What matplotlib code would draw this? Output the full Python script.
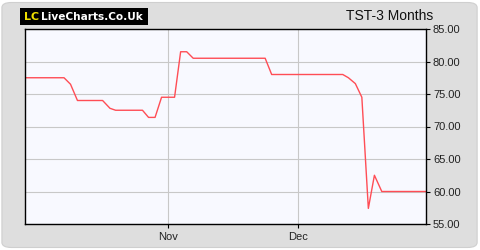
import matplotlib.pyplot as plt
import matplotlib.dates as mdates
from matplotlib.patches import FancyBboxPatch, Rectangle
from datetime import datetime, timedelta

# price series (day offsets from start date, price)
start = datetime(2023, 9, 29)
days = [0, 9, 10.5, 12.1, 17.9, 19.6, 20.9, 27.1, 28.5, 30, 31.5, 34.5,
        35.9, 37.3, 38.8, 55.4, 56.9, 73.3, 74.6, 76.2, 77.7, 79.2, 80.6,
        82.3, 92.5]
prices = [77.5, 77.5, 76.5, 74.0, 74.0, 72.8, 72.5, 72.5, 71.4, 71.4, 74.5,
          74.5, 81.5, 81.5, 80.5, 80.5, 78.0, 78.0, 77.5, 76.6, 74.5, 57.4,
          62.5, 60.0, 60.0]
yticks = [55, 60, 65, 70, 75, 80, 85]
month_ticks = [datetime(2023, 11, 1), datetime(2023, 12, 1)]
month_labels = ['Nov', 'Dec']
title = 'TST-3 Months'

dates = [start + timedelta(days=d) for d in days]

plt.rcParams['font.family'] = ['Liberation Sans', 'DejaVu Sans']

fig = plt.figure(figsize=(4.8, 2.5), dpi=100)
fig.patch.set_facecolor('white')

# grey rounded panel behind everything
bg = FancyBboxPatch((0.004, 0.01), 0.99, 0.98, boxstyle='round,pad=0,rounding_size=0.02',
                    transform=fig.transFigure, facecolor='#dedede', edgecolor='#cfcfcf',
                    linewidth=0.8, zorder=-10)
fig.patches.append(bg)

ax = fig.add_axes([25 / 480, 26 / 250, 401 / 480, 195 / 250])
ax.set_facecolor('#f8f9ff')
ax.plot(dates, prices, color='#ff4d55', linewidth=1.0)

ax.set_xlim(start, start + timedelta(days=92.5))
ax.set_ylim(55, 85)
ax.set_yticks(yticks)
ax.set_yticklabels([f'{v:.2f}' for v in yticks])
ax.set_xticks(month_ticks)
ax.set_xticklabels(month_labels)

ax.yaxis.tick_right()
ax.tick_params(axis='y', direction='out', length=3, width=0.8, pad=2,
               labelsize=8, colors='black', labelcolor='#222222')
ax.tick_params(axis='x', direction='out', length=3, width=0.8, pad=3,
               labelsize=8, labelcolor='#222222')
ax.grid(True, color='#c8c8c8', linewidth=0.8)
ax.set_axisbelow(True)
for s in ax.spines.values():
    s.set_color('black')
    s.set_linewidth(1.0)

# title top right
fig.text(433 / 480, 1 - 16 / 250, title, ha='right', va='center',
         fontsize=10, color='#111111')

# logo
fig.patches.append(Rectangle((20 / 480, 1 - 25 / 250), 128 / 480, 17 / 250,
                             transform=fig.transFigure, facecolor='black',
                             edgecolor='none', zorder=1))
fig.text(24 / 480, 1 - 16.5 / 250, 'LC', ha='left', va='center', fontsize=8,
         fontweight='bold', color='#f0e000', family='DejaVu Sans', zorder=2)
fig.text(41 / 480, 1 - 16.5 / 250, 'LiveCharts.Co.Uk', ha='left', va='center',
         fontsize=7.6, fontweight='bold', color='white', family='DejaVu Sans', zorder=2)

fig.savefig('out.png', dpi=100)
